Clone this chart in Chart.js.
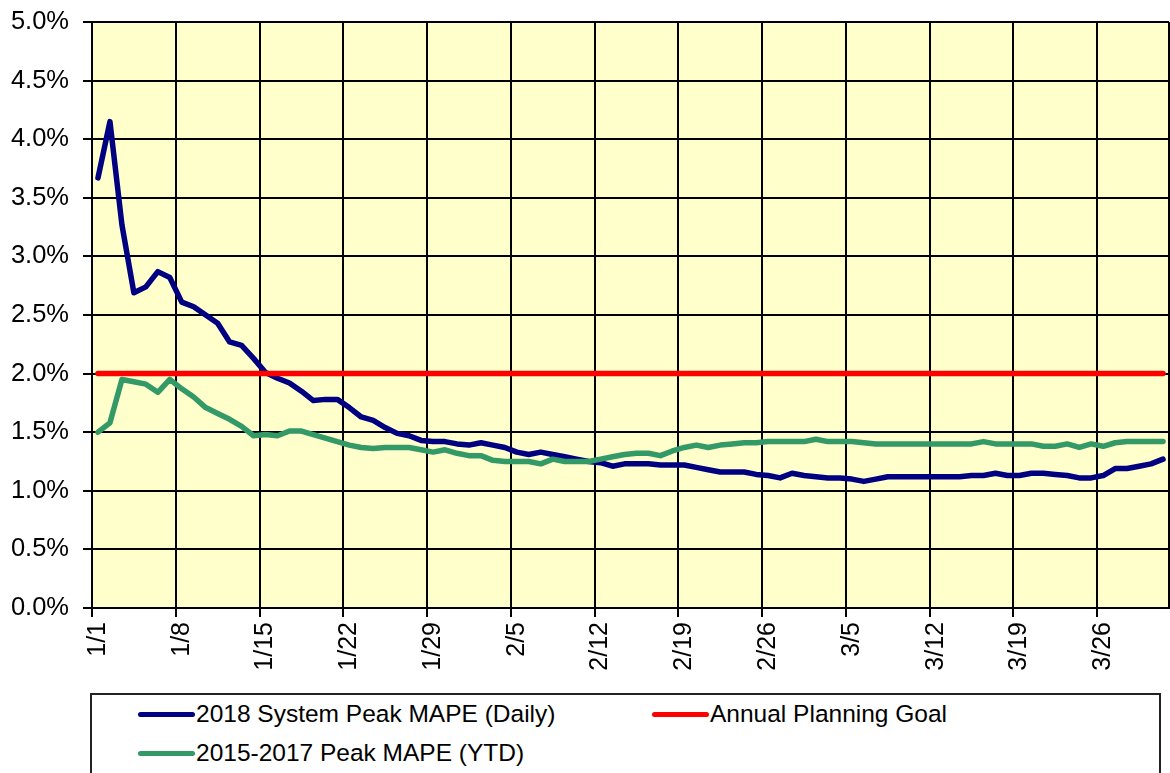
<!DOCTYPE html>
<html>
<head>
<meta charset="utf-8">
<script src="https://cdn.jsdelivr.net/npm/chart.js@4.4.1/dist/chart.umd.min.js"></script>
<style>
  body { margin: 0; background: #fff; font-family: "Liberation Sans", Arial, sans-serif; }
  #wrap { position: relative; width: 1170px; height: 773px; overflow: hidden; }
  #chartBox { position: absolute; left: 0; top: 0; width: 1170px; height: 690px; }
  #legend {
    position: absolute; left: 90px; top: 693px; width: 1071px; height: 110px;
    box-sizing: border-box; border: 2px solid #222; padding-left: 46px;
    display: grid; grid-template-columns: 514px 500px; grid-template-rows: 38px 40px;
  }
  .item { display: flex; align-items: center; font-size: 24.5px; color: #000; white-space: nowrap; }
  .swatch { display: inline-block; width: 57px; height: 5px; border-radius: 3px; margin-right: 1px; }
</style>
</head>
<body>
<div id="wrap">
  <div id="chartBox"><canvas id="mapeChart"></canvas></div>
  <div id="legend"></div>
</div>
<script>
// dias de 1/1 a 3/31
const days = [
  "1/1","1/2","1/3","1/4","1/5","1/6","1/7","1/8","1/9","1/10","1/11","1/12","1/13","1/14","1/15","1/16",
  "1/17","1/18","1/19","1/20","1/21","1/22","1/23","1/24","1/25","1/26","1/27","1/28","1/29","1/30","1/31",
  "2/1","2/2","2/3","2/4","2/5","2/6","2/7","2/8","2/9","2/10","2/11","2/12","2/13","2/14","2/15","2/16",
  "2/17","2/18","2/19","2/20","2/21","2/22","2/23","2/24","2/25","2/26","2/27","2/28",
  "3/1","3/2","3/3","3/4","3/5","3/6","3/7","3/8","3/9","3/10","3/11","3/12","3/13","3/14","3/15","3/16",
  "3/17","3/18","3/19","3/20","3/21","3/22","3/23","3/24","3/25","3/26","3/27","3/28","3/29","3/30","3/31"
];
const tickLabels = ["1/1","1/8","1/15","1/22","1/29","2/5","2/12","2/19","2/26","3/5","3/12","3/19","3/26"];

// MAPE diario 2018 (%)
const mape2018 = [
  3.67, 4.15, 3.27, 2.69, 2.74, 2.87, 2.82, 2.61, 2.57, 2.50, 2.43, 2.27, 2.24, 2.13, 2.01, 1.96,
  1.92, 1.85, 1.77, 1.78, 1.78, 1.71, 1.63, 1.60, 1.54, 1.49, 1.47, 1.43, 1.42, 1.42, 1.40,
  1.39, 1.41, 1.39, 1.37, 1.33, 1.31, 1.33, 1.31, 1.29, 1.27, 1.25, 1.24, 1.21, 1.23, 1.23, 1.23,
  1.22, 1.22, 1.22, 1.20, 1.18, 1.16, 1.16, 1.16, 1.14, 1.13, 1.11, 1.15,
  1.13, 1.12, 1.11, 1.11, 1.10, 1.08, 1.10, 1.12, 1.12, 1.12, 1.12, 1.12, 1.12, 1.12, 1.13, 1.13,
  1.15, 1.13, 1.13, 1.15, 1.15, 1.14, 1.13, 1.11, 1.11, 1.13, 1.19, 1.19, 1.21, 1.23, 1.27
];
// MAPE acumulado 2015-2017 (%)
const mapeHist = [
  1.50, 1.58, 1.95, 1.93, 1.91, 1.84, 1.95, 1.87, 1.80, 1.71, 1.66, 1.61, 1.55, 1.47, 1.48, 1.47,
  1.51, 1.51, 1.48, 1.45, 1.42, 1.39, 1.37, 1.36, 1.37, 1.37, 1.37, 1.35, 1.33, 1.35, 1.32,
  1.30, 1.30, 1.26, 1.25, 1.25, 1.25, 1.23, 1.27, 1.25, 1.25, 1.25, 1.27, 1.29, 1.31, 1.32, 1.32,
  1.30, 1.34, 1.37, 1.39, 1.37, 1.39, 1.40, 1.41, 1.41, 1.42, 1.42, 1.42,
  1.42, 1.44, 1.42, 1.42, 1.42, 1.41, 1.40, 1.40, 1.40, 1.40, 1.40, 1.40, 1.40, 1.40, 1.40, 1.42,
  1.40, 1.40, 1.40, 1.40, 1.38, 1.38, 1.40, 1.37, 1.40, 1.38, 1.41, 1.42, 1.42, 1.42, 1.42
];
const planningGoal = 2.0;

// fundo amarelo da area do grafico e borda direita
const plotFrame = {
  id: "plotFrame",
  beforeDraw(chart) {
    const { ctx, chartArea: a } = chart;
    ctx.save();
    ctx.fillStyle = "#FFFFCC";
    ctx.fillRect(a.left, a.top, a.right - a.left, a.bottom - a.top);
    ctx.restore();
  },
  beforeDatasetsDraw(chart) {
    const { ctx, chartArea: a } = chart;
    ctx.save();
    ctx.strokeStyle = "#000";
    ctx.lineWidth = 2;
    ctx.beginPath();
    ctx.moveTo(a.right, a.top);
    ctx.lineTo(a.right, a.bottom);
    ctx.stroke();
    ctx.restore();
  }
};

const weekLine = (c) => (c.index % 7 === 0 ? "#000" : "rgba(0,0,0,0)");

const ctx = document.getElementById("mapeChart").getContext("2d");
const chart = new Chart(ctx, {
  type: "line",
  data: {
    labels: days,
    datasets: [
      {
        label: "2018 System Peak MAPE (Daily)",
        data: mape2018,
        borderColor: "#000080",
        borderWidth: 5.5,
        order: 3
      },
      {
        label: "Annual Planning Goal",
        data: days.map(() => planningGoal),
        borderColor: "#FF0000",
        borderWidth: 5.5,
        order: 2
      },
      {
        label: "2015-2017 Peak MAPE (YTD)",
        data: mapeHist,
        borderColor: "#339966",
        borderWidth: 5.5,
        order: 1
      }
    ]
  },
  options: {
    responsive: true,
    maintainAspectRatio: false,
    animation: false,
    layout: { padding: { top: 22, right: 1, left: 0, bottom: 0 } },
    elements: {
      line: { tension: 0, borderCapStyle: "round", borderJoinStyle: "round", fill: false },
      point: { radius: 0, hoverRadius: 0 }
    },
    plugins: { legend: { display: false }, tooltip: { enabled: false } },
    scales: {
      x: {
        type: "category",
        offset: true,
        grid: { offset: true, color: weekLine, lineWidth: 2, tickLength: 9, drawTicks: true },
        border: { color: "#000", width: 2 },
        ticks: {
          autoSkip: false,
          minRotation: 90,
          maxRotation: 90,
          padding: 5,
          color: "#000",
          font: { family: "'Liberation Sans', Arial, sans-serif", size: 25 },
          callback(value) {
            const lbl = this.getLabelForValue(value);
            return tickLabels.includes(lbl) ? lbl : "";
          }
        },
        afterFit(scale) {
          scale.height = 82;
          scale.paddingLeft = 0;
          scale.paddingRight = 0;
          scale.paddingTop = 0;
        }
      },
      y: {
        min: 0,
        max: 5,
        grid: { color: "#000", lineWidth: 2, tickLength: 9 },
        border: { color: "#000", width: 2 },
        ticks: {
          stepSize: 0.5,
          padding: 14,
          color: "#000",
          font: { family: "'Liberation Sans', Arial, sans-serif", size: 25.5 },
          callback: (v) => v.toFixed(1) + "%"
        },
        afterFit(scale) {
          scale.width = 92;
          scale.paddingTop = 0;
          scale.paddingBottom = 0;
        }
      }
    }
  },
  plugins: [plotFrame]
});

// legenda em duas colunas, na ordem das series
const legendOrder = [0, 1, 2];
const legendEl = document.getElementById("legend");
legendOrder.forEach((i) => {
  const ds = chart.data.datasets[i];
  const item = document.createElement("div");
  item.className = "item";
  const sw = document.createElement("span");
  sw.className = "swatch";
  sw.style.background = ds.borderColor;
  item.appendChild(sw);
  item.appendChild(document.createTextNode(ds.label));
  legendEl.appendChild(item);
});
</script>
</body>
</html>
